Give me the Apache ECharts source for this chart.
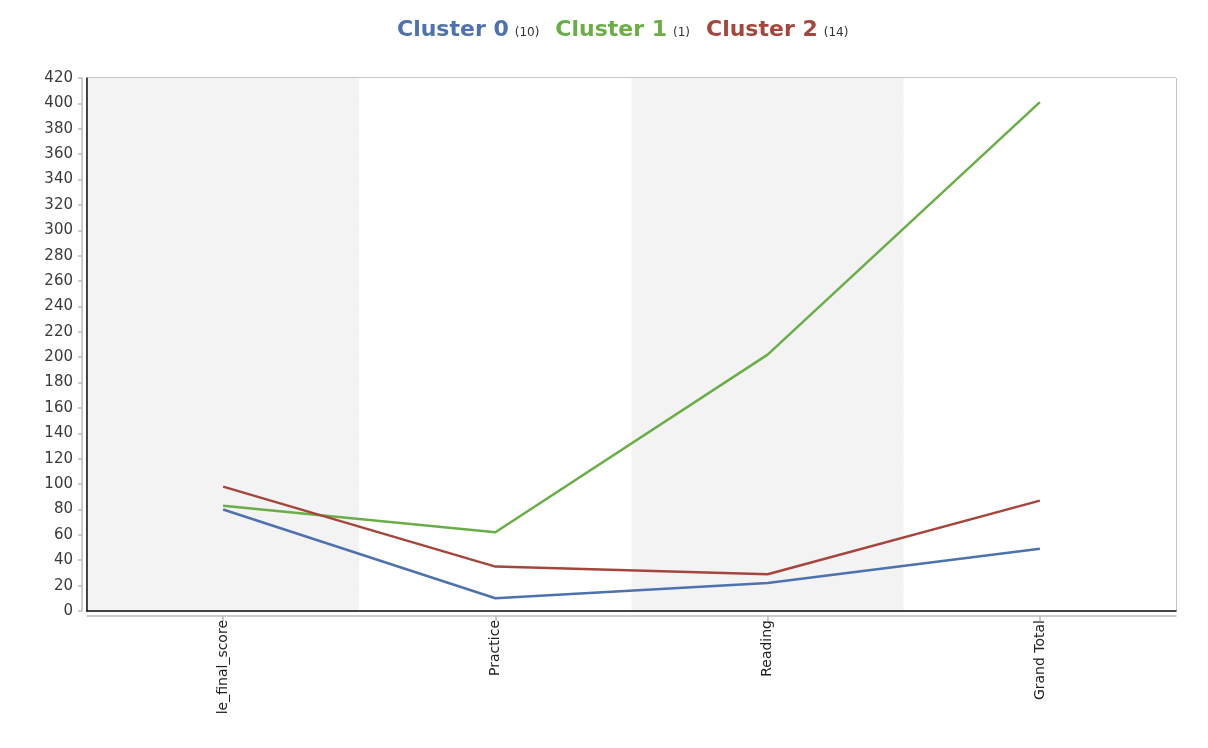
<!DOCTYPE html>
<html><head><meta charset="utf-8">
<script src="https://cdn.jsdelivr.net/npm/echarts@6/dist/echarts.min.js"></script>
<style>html,body{margin:0;padding:0;background:#fff}#c{width:1208px;height:748px}</style>
</head><body><div id="c"></div>
<script>
const categories = ['le_final_score', 'Practice', 'Reading', 'Grand Total'];
const seriesNames = ['Cluster 0', 'Cluster 1', 'Cluster 2'];
const seriesCounts = ['10', '1', '14'];
const cluster0 = [80, 10, 22, 49];
const cluster1 = [83, 62, 202, 401];
const cluster2 = [98, 35, 29, 87];
const colors = ['#4d72ae', '#6aae47', '#a5463c'];

const chart = echarts.init(document.getElementById('c'));
const data = [cluster0, cluster1, cluster2];
const rich = {};
seriesNames.forEach((n, i) => {
  rich['n' + i] = {fontFamily: 'DejaVu Sans', fontWeight: 'bold', fontSize: 22, color: colors[i]};
});
rich.c = {fontFamily: 'DejaVu Sans', fontSize: 12, color: '#333', padding: [6, 0, 0, 6]};

chart.setOption({
  animation: false,
  backgroundColor: '#fff',
  legend: {
    top: 14, left: 387, icon: 'none', itemWidth: 0, itemGap: 11,
    data: seriesNames,
    formatter: name => {
      const i = seriesNames.indexOf(name);
      return '{n' + i + '|' + name + '}{c|(' + seriesCounts[i] + ')}';
    },
    textStyle: {rich: rich}
  },
  grid: {left: 87, right: 32, top: 78, bottom: 137, show: true, borderColor: '#888', borderWidth: 1, backgroundColor: 'transparent'},
  xAxis: [{
    type: 'category', data: categories, boundaryGap: true, position: 'bottom', offset: 5,
    axisLine: {show: true, onZero: false, lineStyle: {color: '#bbbbbb', width: 1.5}},
    axisTick: {show: true, alignWithLabel: true, length: 5, lineStyle: {color: '#bbbbbb', width: 1.5}},
    axisLabel: {rotate: 90, fontFamily: 'DejaVu Sans', fontSize: 14, color: '#222', margin: 4},
    splitLine: {show: false},
    splitArea: {show: true, areaStyle: {color: ['#f3f3f3', '#ffffff']}}
  }, {
    type: 'category', data: categories, position: 'bottom', offset: 0,
    axisLine: {show: true, onZero: false, lineStyle: {color: '#111', width: 1.5}},
    axisTick: {show: false}, axisLabel: {show: false}, splitLine: {show: false}
  }],
  yAxis: [{
    type: 'value', min: 0, max: 420, interval: 20, offset: 5,
    axisLine: {show: true, onZero: false, lineStyle: {color: '#bbbbbb', width: 1.5}},
    axisTick: {show: true, length: 4, lineStyle: {color: '#bbbbbb', width: 1.5}},
    axisLabel: {fontFamily: 'DejaVu Sans', fontSize: 15, color: '#3a3a3a', margin: 9},
    splitLine: {show: true, lineStyle: {color: '#d8d8d8', type: [3, 3], width: 1}}
  }, {
    type: 'value', min: 0, max: 420, interval: 20, position: 'left', offset: 0,
    axisLine: {show: true, onZero: false, lineStyle: {color: '#111', width: 1.5}},
    axisTick: {show: false}, axisLabel: {show: false}, splitLine: {show: false}
  }],
  series: seriesNames.map((n, i) => ({
    name: n, type: 'line', data: data[i], showSymbol: false, symbol: 'none',
    lineStyle: {color: colors[i], width: 2.5}, itemStyle: {color: colors[i]}, z: 3 + i
  }))
});
</script></body></html>
